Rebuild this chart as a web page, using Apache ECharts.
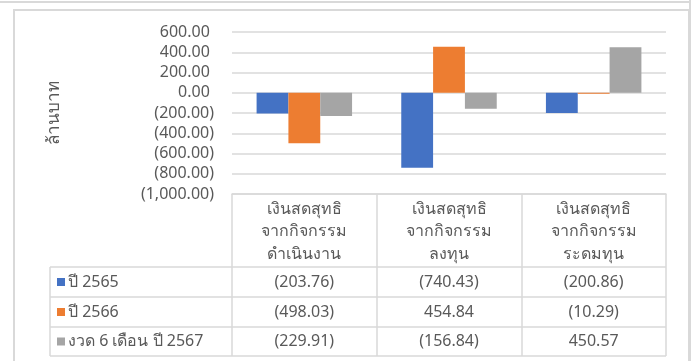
<!DOCTYPE html>
<html>
<head>
<meta charset="utf-8">
<script src="https://cdn.jsdelivr.net/npm/echarts@6/dist/echarts.min.js"></script>
<style>
  html, body { margin: 0; padding: 0; background: #fff; }
  #chart { width: 696px; height: 361px; }
</style>
</head>
<body>
<div id="chart"></div>
<script>
// data
const categories = [
  "เงินสดสุทธิ\nจากกิจกรรม\nดำเนินงาน",
  "เงินสดสุทธิ\nจากกิจกรรม\nลงทุน",
  "เงินสดสุทธิ\nจากกิจกรรม\nระดมทุน"
];
const seriesNames = ["ปี 2565", "ปี 2566", "งวด 6 เดือน ปี 2567"];
const values2565 = [-203.76, -740.43, -200.86];
const values2566 = [-498.03, 454.84, -10.29];
const values2567 = [-229.91, -156.84, 450.57];
const yMin = -1000, yMax = 600, yStep = 200;
const yTitle = "ล้านบาท";

const colors = ["#4472C4", "#ED7D31", "#A5A5A5"];
const allValues = [values2565, values2566, values2567];
const font = "'Noto Sans', 'Liberation Sans', sans-serif";
const textColor = "#595959";
const lineColor = "#D9D9D9";

function fmt(v) {
  let s = Math.abs(v).toLocaleString("en-US", { minimumFractionDigits: 2, maximumFractionDigits: 2 });
  return v < 0 ? "(" + s + ")" : s;
}

let chart = echarts.init(document.getElementById("chart"));

let option = {
  animation: false,
  color: colors,
  grid: { left: 232, right: 30, top: 32, bottom: 167 },
  xAxis: {
    type: "category",
    data: categories,
    axisLine: { onZero: false, lineStyle: { color: lineColor, width: 1.5 } },
    axisTick: { show: true, length: 162, lineStyle: { color: lineColor, width: 1.5 } },
    axisLabel: {
      color: textColor, fontFamily: font, fontSize: 16, lineHeight: 22.5, margin: 4
    }
  },
  yAxis: {
    type: "value",
    min: yMin, max: yMax, interval: yStep,
    axisLine: { show: false },
    axisTick: { show: false },
    splitLine: { lineStyle: { color: lineColor, width: 1.5 } },
    axisLabel: {
      color: textColor, fontFamily: font, fontSize: 16, margin: 18,
      formatter: function (v) { return v < 0 ? fmt(v) : fmt(v) + "\u00a0"; }
    }
  },
  series: seriesNames.map(function (name, i) {
    return {
      name: name,
      type: "bar",
      data: allValues[i],
      barGap: "0%",
      barCategoryGap: "34%"
    };
  })
};

chart.setOption(option);

// data table under the plot
let rowTops = [267, 297, 327, 356];
let tableLeft = 50, tableRight = 666;
let gfx = [];
// outer frames
gfx.push({ type: "line", shape: { x1: 0, y1: 2, x2: 690, y2: 2 }, style: { stroke: lineColor, lineWidth: 2 } });
gfx.push({ type: "line", shape: { x1: 690, y1: 0, x2: 690, y2: 361 }, style: { stroke: lineColor, lineWidth: 2 } });
gfx.push({ type: "rect", shape: { x: 14, y: 10, width: 675, height: 400 }, style: { fill: "none", stroke: lineColor, lineWidth: 2 } });
// y axis title
gfx.push({
  type: "text", x: 54, y: 113, rotation: Math.PI / 2,
  style: { text: yTitle, fill: textColor, font: "17px " + font, align: "center", verticalAlign: "middle" }
});
// row lines
rowTops.forEach(function (y) {
  gfx.push({ type: "line", shape: { x1: tableLeft, y1: y, x2: tableRight, y2: y }, style: { stroke: lineColor, lineWidth: 1.5 } });
});
gfx.push({ type: "line", shape: { x1: tableLeft, y1: rowTops[0], x2: tableLeft, y2: rowTops[3] }, style: { stroke: lineColor, lineWidth: 1.5 } });

for (let r = 0; r < 3; r++) {
  let cy = (rowTops[r] + rowTops[r + 1]) / 2;
  gfx.push({ type: "rect", shape: { x: 57, y: cy - 4, width: 8, height: 8 }, style: { fill: colors[r] } });
  gfx.push({
    type: "text", x: 68, y: cy,
    style: { text: seriesNames[r], fill: textColor, font: "16px " + font, verticalAlign: "middle", align: "left" }
  });
  for (let c = 0; c < categories.length; c++) {
    let cx = chart.convertToPixel({ xAxisIndex: 0 }, c);
    gfx.push({
      type: "text", x: cx, y: cy,
      style: { text: fmt(allValues[r][c]), fill: textColor, font: "16px " + font, verticalAlign: "middle", align: "center" }
    });
  }
}

chart.setOption({ graphic: gfx });
</script>
</body>
</html>
